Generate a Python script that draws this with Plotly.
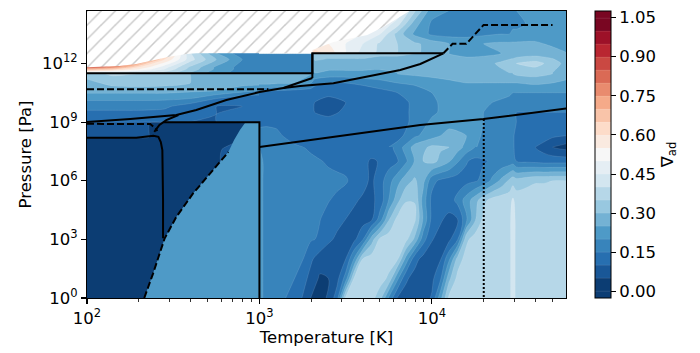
import numpy as np
import plotly.graph_objects as go

# ---------------- data (log10 T [K], log10 P [Pa], nabla_ad) ----------------
# left part: 100 K - 1000 K
lt_log10T = [2.0, 2.15, 2.3, 2.45, 2.6, 2.75, 2.9, 2.9975, 3.04]
lt_log10P = [0, 6, 7, 7.6, 8.15, 8.22, 8.5, 8.95, 9.02, 9.4, 9.8, 10.2, 10.6,
             11.0, 11.47, 11.52, 11.7, 11.8, 12.2, 12.6, 14.7]
lt_nabla = [
    [.02, .02, .02, .02, .02, .02, .02, .02, .02],
    [.02, .02, .02, .02, .02, .02, .02, .02, .02],
    [.02, .02, .02, .02, .02, .02, .20, .22, .22],
    [.02, .02, .02, .02, .02, .02, .16, .22, .22],
    [.02, .02, .02, .02, .02, .02, .04, .20, .20],
    [.07, .07, .07, .02, .02, .02, .04, .19, .19],
    [.07, .07, .07, .02, .02, .02, .03, .16, .16],
    [.07, .07, .07, .02, .02, .02, .03, .12, .12],
    [.12, .12, .12, .11, .10, .10, .11, .12, .13],
    [.13, .13, .13, .13, .11, .10, .11, .12, .13],
    [.17, .17, .17, .16, .12, .10, .10, .11, .12],
    [.21, .21, .21, .21, .20, .15, .11, .11, .12],
    [.27, .27, .27, .27, .26, .25, .22, .20, .20],
    [.28, .32, .33, .32, .30, .28, .27, .27, .27],
    [.33, .36, .35, .33, .30, .28, .28, .28, .28],
    [.45, .42, .40, .38, .30, .22, .18, .17, .17],
    [.72, .66, .55, .45, .33, .24, .18, .17, .17],
    [.85, .78, .60, .47, .34, .24, .18, .17, .17],
    [.85, .85, .85, .60, .42, .30, .20, .17, .17],
    [.85, .85, .85, .70, .40, .24, .17, .17, .17],
    [.85, .85, .85, .85, .40, .24, .17, .17, .17],
]

# lower right part: T > 1000 K, below ~1e8 Pa (fine grid)
lo_log10T = [2.9975, 3.02, 3.05, 3.10, 3.15, 3.20, 3.25, 3.30, 3.35, 3.40, 3.45, 3.50, 3.55,
             3.60, 3.65, 3.70, 3.75, 3.80, 3.85, 3.90, 3.95, 4.00, 4.05, 4.10, 4.15, 4.20,
             4.25, 4.30, 4.35, 4.40, 4.45, 4.47, 4.49, 4.55, 4.60, 4.65, 4.70, 4.78]
lo_log10P = [0, 1, 2, 3, 4, 5, 6, 7, 7.7238, 8.3]
lo_nabla = [
    [.22, .20, .175, .164, .151, .127, .098, .047, .024, .060, .126, .364, .38, .386, .37, .319, .193, .095, .079, .066, .08, .105, .233, .363, .376, .38, .38, .38, .38, .38, .38, .44, .38, .38, .38, .38, .38, .38],
    [.22, .20, .175, .168, .16, .152, .122, .081, .043, .05, .083, .172, .36, .377, .388, .373, .34, .213, .108, .081, .072, .088, .142, .287, .367, .38, .38, .38, .38, .38, .38, .44, .38, .38, .38, .38, .38, .38],
    [.22, .20, .177, .171, .165, .159, .153, .108, .074, .053, .074, .099, .206, .352, .375, .39, .375, .36, .234, .12, .082, .077, .096, .19, .322, .372, .38, .38, .38, .38, .38, .44, .38, .38, .38, .38, .38, .38],
    [.22, .20, .178, .173, .168, .163, .159, .154, .145, .113, .088, .07, .089, .147, .275, .364, .378, .38, .366, .29, .17, .103, .084, .089, .148, .338, .375, .38, .38, .38, .38, .44, .38, .38, .38, .38, .38, .38],
    [.22, .20, .178, .174, .17, .165, .161, .156, .151, .137, .118, .099, .085, .079, .094, .178, .297, .367, .377, .361, .244, .135, .105, .087, .099, .189, .294, .366, .38, .38, .38, .44, .38, .38, .38, .38, .38, .38],
    [.22, .20, .178, .176, .172, .169, .165, .161, .157, .152, .142, .125, .107, .092, .088, .12, .201, .283, .347, .348, .228, .136, .11, .123, .166, .223, .279, .335, .37, .38, .38, .41, .38, .38, .38, .38, .38, .38],
    [.22, .20, .178, .176, .174, .172, .17, .167, .165, .163, .16, .156, .133, .117, .09, .129, .18, .232, .278, .309, .266, .167, .14, .129, .123, .133, .143, .165, .211, .26, .31, .33, .32, .334, .345, .345, .35, .35],
    [.22, .20, .178, .174, .17, .166, .162, .158, .153, .144, .138, .131, .125, .114, .093, .104, .127, .144, .192, .253, .30, .316, .289, .256, .206, .154, .135, .146, .154, .162, .17, .178, .15, .14, .135, .13, .13, .13],
    [.20, .19, .18, .173, .165, .158, .151, .143, .13, .13, .13, .13, .13, .13, .13, .13, .13, .17, .22, .27, .29, .31, .306, .30, .272, .235, .20, .178, .175, .172, .17, .16, .13, .117, .10, .077, .05, .03],
    [.18, .175, .17, .16, .145, .13, .125, .12, .12, .12, .12, .12, .12, .12, .12, .12, .12, .13, .15, .19, .21, .23, .25, .27, .26, .25, .22, .19, .18, .17, .17, .16, .13, .125, .12, .115, .11, .10],
]

# upper right part: T > 1000 K, above ~5e7 Pa
hi_log10T = [2.9975, 3.04, 3.1, 3.2, 3.3, 3.32, 3.4, 3.5, 3.6, 3.7, 3.8, 3.9, 4.0,
             4.1, 4.2, 4.3, 4.4, 4.45, 4.47, 4.49, 4.6, 4.7, 4.78]
hi_log10P = [7.7238, 8.3, 9.0, 9.5, 10.0, 10.5, 11.0, 11.47, 11.52, 12.0, 12.49, 12.55,
             13.0, 13.5, 14.0, 14.7]
hi_nabla = [
    [.20, .185, .173, .158, .143, .138, .13, .13, .13, .13, .17, .27, .31, .30, .235, .178, .172, .17, .16, .13, .10, .05, .03],
    [.18, .17, .16, .13, .12, .12, .12, .12, .12, .12, .13, .19, .23, .27, .25, .19, .17, .17, .16, .13, .12, .11, .10],
    [.13, .14, .14, .13, .12, .12, .12, .12, .12, .12, .13, .16, .21, .23, .22, .20, .18, .17, .16, .15, .14, .14, .14],
    [.12, .13, .13, .12, .11, .10, .085, .11, .12, .12, .13, .16, .19, .22, .22, .20, .17, .16, .16, .15, .15, .15, .15],
    [.11, .12, .12, .12, .11, .10, .085, .10, .11, .12, .13, .16, .19, .22, .22, .21, .19, .18, .17, .17, .17, .17, .17],
    [.12, .12, .12, .11, .11, .11, .11, .11, .12, .13, .15, .17, .20, .22, .23, .23, .22, .21, .20, .20, .20, .20, .20],
    [.27, .27, .26, .25, .20, .17, .15, .15, .16, .18, .20, .21, .22, .24, .25, .25, .25, .25, .25, .25, .26, .25, .24],
    [.28, .28, .28, .27, .25, .24, .23, .23, .24, .24, .25, .26, .27, .27, .27, .28, .29, .30, .30, .31, .32, .30, .27],
    [.17, .17, .17, .17, .17, .25, .24, .24, .24, .24, .25, .26, .27, .27, .27, .28, .29, .30, .30, .31, .32, .30, .27],
    [.17, .17, .17, .17, .17, .29, .28, .28, .28, .27, .27, .27, .27, .27, .27, .28, .31, .33, .34, .35, .37, .33, .28],
    [.17, .17, .17, .17, .17, .32, .32, .32, .32, .31, .31, .30, .29, .25, .24, .24, .25, .26, .26, .27, .28, .27, .25],
    [.60, .60, .60, .60, .60, .62, .58, .50, .43, .39, .35, .31, .28, .25, .24, .24, .25, .26, .26, .27, .28, .27, .25],
    [.55, .55, .55, .55, .55, .55, .55, .50, .45, .39, .35, .31, .28, .25, .24, .25, .26, .26, .26, .26, .26, .24, .23],
    [.50, .50, .50, .50, .50, .50, .50, .50, .50, .45, .33, .24, .19, .18, .18, .19, .20, .20, .21, .21, .22, .23, .23],
    [.50, .50, .50, .50, .50, .50, .50, .50, .50, .50, .42, .27, .19, .17, .17, .17, .18, .18, .19, .19, .21, .22, .22],
    [.50, .50, .50, .50, .50, .50, .50, .50, .50, .50, .50, .36, .22, .20, .19, .19, .20, .20, .20, .20, .21, .22, .22],
]

# region right of the condensation curve (uniform nabla_ad band 0.20-0.25)
cond_region_value = 0.225
cond_log10T = [2.332, 2.383, 2.45, 2.518, 2.615, 2.692, 2.75, 2.82, 2.853, 2.887, 2.916, 3.0, 3.0]
cond_log10P = [0.0, 1.25, 3.042, 4.148, 5.347, 6.115, 6.745, 7.462, 8.08, 8.59, 8.95, 8.95, 0.0]

# no-data (hatched) region
nodata_log10T = [2.0, 2.187, 2.286, 2.385, 2.477, 2.576, 2.634, 3.307, 3.307, 3.429, 3.626, 3.719, 3.817, 3.87, 2.0]
nodata_log10P = [11.80, 11.867, 11.97, 12.175, 12.343, 12.48, 12.517, 12.517, 12.686, 13.096, 13.454, 13.864, 14.376, 14.68, 14.68]

# EOS boundary lines
solid_lines = [
    ([2.0, 2.251, 2.518, 2.634, 2.808, 3.001, 3.139, 3.237, 3.429, 3.626, 3.817, 3.933, 4.009, 4.067],
     [9.0, 9.152, 9.357, 9.613, 10.125, 10.535, 10.74, 10.843, 10.981, 11.319, 11.662, 11.969, 12.261, 12.517]),
    ([3.139, 3.307], [10.74, 11.252]),
    ([2.0, 3.307, 3.307, 4.067], [11.493, 11.493, 12.517, 12.517]),
    ([3.307, 3.307], [11.252, 12.517]),
    ([2.443, 3.0, 3.0], [8.985, 8.985, 0.0]),
    ([2.0, 2.286, 2.385, 2.414, 2.428, 2.437, 2.441, 2.441], [8.195, 8.195, 8.297, 8.246, 7.974, 7.565, 5.004, 3.058]),
    ([2.39, 2.42, 2.46, 2.53], [8.50, 8.85, 9.10, 9.36]),
    ([3.0, 3.527, 3.933, 4.299, 4.78], [7.718, 8.358, 8.845, 9.152, 9.70]),
]
dashed_lines = [
    ([2.0, 3.052], [10.673, 10.673]),
    ([4.067, 4.12, 4.2, 4.3, 4.7], [12.517, 13.0, 13.0, 13.967, 13.967]),
    ([2.0, 2.367, 2.396, 2.408], [8.91, 8.896, 8.69, 8.54]),
    ([2.332, 2.383, 2.45, 2.518, 2.615, 2.692, 2.75, 2.82], [0.0, 1.25, 3.042, 4.148, 5.347, 6.115, 6.745, 7.462]),
]
dotted_lines = [
    ([4.301, 4.301], [9.152, 0.0]),
]

x_tick_vals = [2, 3, 4]
x_tick_text = ["10<sup>2</sup>", "10<sup>3</sup>", "10<sup>4</sup>"]
y_tick_vals = [0, 3, 6, 9, 12]
y_tick_text = ["10<sup>0</sup>", "10<sup>3</sup>", "10<sup>6</sup>", "10<sup>9</sup>", "10<sup>12</sup>"]
cbar_ticks = [0.0, 0.15, 0.30, 0.45, 0.60, 0.75, 0.90, 1.05]

# ---------------- colours (matplotlib RdBu_r, 21 contour bands) ----------------
rdbu_r = ['#053061', '#2166ac', '#4393c3', '#92c5de', '#d1e5f0', '#f7f7f7',
          '#fddbc7', '#f4a582', '#d6604d', '#b2182b', '#67001f']


def h2rgb(h):
    return np.array([int(h[i:i + 2], 16) for i in (1, 3, 5)], float)


def cmap(v):
    v = min(max(v, 0.0), 1.0) * 10
    i = min(int(v), 9)
    f = v - i
    c = (1 - f) * h2rgb(rdbu_r[i]) + f * h2rgb(rdbu_r[i + 1])
    return 'rgb(%d,%d,%d)' % tuple(np.round(c))


nb = 21
band_cols = [cmap((0.025 + 0.05 * k) / 1.05) for k in range(nb)]
cscale = []
for k in range(nb):
    lo = 0.0 if k == 0 else (k + 0.5) / 22
    hi = 1.0 if k == nb - 1 else (k + 1.5) / 22
    cscale.append([lo, band_cols[k]])
    cscale.append([hi, band_cols[k]])

FONT = "DejaVu Sans"
FS = 16.5

fig = go.Figure()
contours = dict(start=0, end=1.05, size=0.05, coloring='fill', showlines=True)
grids = [(lt_log10T, lt_log10P, lt_nabla, 0.6),
         (lo_log10T, lo_log10P, lo_nabla, 1.0),
         (hi_log10T, hi_log10P, hi_nabla, 0.6)]
for i, (xx, yy, zz, sm) in enumerate(grids):
    fig.add_trace(go.Contour(
        x=xx, y=yy, z=zz, contours=contours, autocontour=False,
        colorscale=cscale, line=dict(width=0.5, color='rgba(255,255,255,0.22)', smoothing=sm),
        showscale=(i == 0), hoverinfo='skip',
        colorbar=dict(
            x=1.0605, xanchor='left', xpad=0, y=0.5, yanchor='middle', len=1, ypad=0,
            thickness=15.5, outlinewidth=1, outlinecolor='black',
            tickvals=cbar_ticks, ticktext=['%.2f' % t for t in cbar_ticks],
            ticks='outside', ticklen=4.9, tickwidth=1.1, tickcolor='black',
            tickfont=dict(family=FONT, size=FS, color='black'),
            title=dict(text='∇<sub>ad</sub>', side='right', font=dict(family=FONT, size=FS, color='black')),
        ),
    ))

fig.add_trace(go.Scatter(x=cond_log10T, y=cond_log10P, mode='lines', fill='toself',
                         fillcolor=cmap(cond_region_value / 1.05),
                         line=dict(width=0, color=cmap(cond_region_value / 1.05)),
                         hoverinfo='skip', showlegend=False))

fig.add_trace(go.Scatter(x=nodata_log10T, y=nodata_log10P, mode='lines', fill='toself',
                         fillcolor='white',
                         fillpattern=dict(shape='/', size=10, solidity=0.15, fgcolor='#959595',
                                          fillmode='overlay'),
                         line=dict(width=0, color='white'), hoverinfo='skip', showlegend=False))

for xs, ys in solid_lines:
    fig.add_trace(go.Scatter(x=xs, y=ys, mode='lines', line=dict(color='black', width=2),
                             hoverinfo='skip', showlegend=False))
for xs, ys in dashed_lines:
    fig.add_trace(go.Scatter(x=xs, y=ys, mode='lines', line=dict(color='black', width=2, dash='7px,3px'),
                             hoverinfo='skip', showlegend=False))
for xs, ys in dotted_lines:
    fig.add_trace(go.Scatter(x=xs, y=ys, mode='lines', line=dict(color='black', width=2, dash='2px,2px'),
                             hoverinfo='skip', showlegend=False))

minor_x = [np.log10(m * 10 ** e) for e in (2, 3, 4) for m in range(2, 10) if m * 10 ** e < 60000]

fig.update_layout(
    width=700, height=353,
    margin=dict(l=87, r=134, t=11, b=55, autoexpand=False),
    paper_bgcolor='white', plot_bgcolor='white',
    font=dict(family=FONT, size=FS, color='black'),
    showlegend=False,
    xaxis=dict(range=[2, 4.778], tickvals=x_tick_vals, ticktext=x_tick_text,
               ticks='outside', ticklen=4.9, tickwidth=1.1, tickcolor='black',
               showline=True, linecolor='black', linewidth=1.1, mirror=True,
               showgrid=False, zeroline=False, automargin=False,
               minor=dict(tickvals=minor_x, ticks='outside', ticklen=2.8, tickwidth=0.8, tickcolor='black'),
               title=dict(text='Temperature [K]', standoff=4, font=dict(family=FONT, size=FS)),
               tickfont=dict(family=FONT, size=FS)),
    yaxis=dict(range=[0, 14.68], tickvals=y_tick_vals, ticktext=y_tick_text,
               ticks='outside', ticklen=4.9, tickwidth=1.1, tickcolor='black',
               showline=True, linecolor='black', linewidth=1.1, mirror=True,
               showgrid=False, zeroline=False, automargin=False,
               title=dict(text='Pressure [Pa]', standoff=6, font=dict(family=FONT, size=FS)),
               tickfont=dict(family=FONT, size=FS)),
)

fig.write_html("out.html", config={'displayModeBar': False, 'staticPlot': True},
               post_script="document.body.style.margin='0';document.body.style.overflow='hidden';")
